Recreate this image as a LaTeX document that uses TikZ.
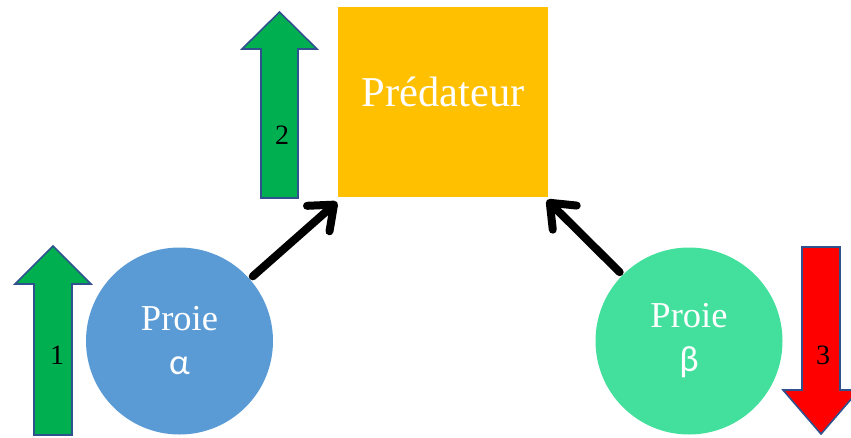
\documentclass[tikz,border=0pt]{standalone}
\usepackage{fontspec}
\setmainfont{Liberation Serif}
\newfontfamily\grk{Carlito}
\usetikzlibrary{arrows.meta}
\definecolor{arrgreen}{RGB}{0,176,80}
\definecolor{arrred}{RGB}{255,0,0}
\definecolor{arredge}{RGB}{47,82,143}
\definecolor{predcol}{RGB}{255,192,0}
\definecolor{alphacol}{RGB}{91,155,213}
\definecolor{betacol}{RGB}{67,224,157}
\tikzset{
  blockarrow/.style={draw=arredge, line width=1.6pt, line join=miter},
  numlabel/.style={font=\fontsize{28}{30}\selectfont, text=black, inner sep=0},
  prey/.style={circle, minimum size=187pt, inner sep=0, text=white, align=center,
    font=\fontsize{36.5}{44}\selectfont},
  conn/.style={line width=8pt, line cap=round, black, shorten <=4pt,
    -{Straight Barb[round, length=21pt, width=34pt]}}
}
\begin{document}
\begin{tikzpicture}[x=1pt,y=-1pt]
\useasboundingbox (0,0) rectangle (851,437);
% predator square
\node[fill=predcol, minimum width=210pt, minimum height=190pt, inner sep=0, anchor=north west] (pred) at (338,7) {};
\node[text=white, font=\fontsize{42.5}{48}\selectfont, anchor=base, inner sep=0] (predtxt) at (443,106) {Prédateur};
% prey circles
\node[prey, fill=alphacol] (pa) at (179.5,341) {Proie\\{\grk α}};
\node[prey, fill=betacol] (pb) at (689,341) {Proie\\{\grk β}};
% block arrows
\filldraw[fill=arrgreen, blockarrow] (34,435) -- (34,284) -- (15,284) -- (53,246) -- (91,284) -- (72,284) -- (72,435) -- cycle;
\node[numlabel] (n1) at (57,355) {1};
\filldraw[fill=arrgreen, blockarrow] (261,198) -- (261,49) -- (242,49) -- (279.5,12) -- (317,49) -- (298,49) -- (298,198) -- cycle;
\node[numlabel] (n2) at (282,135) {2};
\filldraw[fill=arrred, blockarrow] (802,247) -- (840,247) -- (840,390) -- (859,390) -- (821,434) -- (783,390) -- (802,390) -- cycle;
\node[numlabel] (n3) at (823,355) {3};
% connectors
\coordinate (t1) at (337,202);
\coordinate (t2) at (547,200);
\draw[conn] (pa) -- (t1);
\draw[conn] (pb) -- (t2);
\end{tikzpicture}
\end{document}
